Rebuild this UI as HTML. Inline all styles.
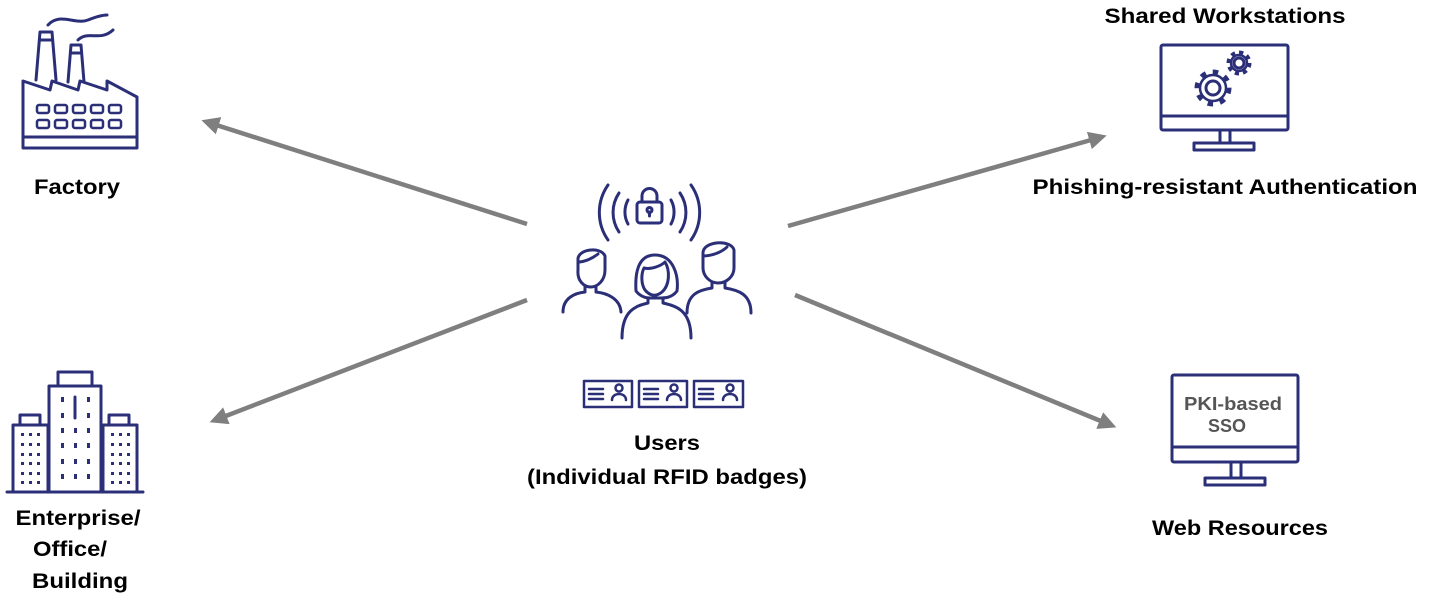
<!DOCTYPE html>
<html><head><style>html,body{margin:0;padding:0;background:#fff}svg{display:block}</style></head>
<body>
<svg width="1429" height="599" viewBox="0 0 1429 599" xmlns="http://www.w3.org/2000/svg">
<defs>
<marker id="ah" markerWidth="4" markerHeight="4" refX="2" refY="2" orient="auto" markerUnits="strokeWidth">
<path d="M0,0 L4,2 L0,4 z" fill="#7f7f7f"/></marker>
</defs>
<g stroke="#7f7f7f" stroke-width="4.5" fill="none" marker-end="url(#ah)">
<line x1="527" y1="224" x2="210" y2="123"/>
<line x1="527" y1="300" x2="218" y2="419"/>
<line x1="788" y1="226" x2="1098" y2="138"/>
<line x1="795" y1="295" x2="1108" y2="424"/>
</g>
<g stroke="#2b2f78" stroke-width="3" fill="none" stroke-linejoin="round" stroke-linecap="round">
<!-- factory -->
<path d="M23,148 L23,81 L50,90 L52,81 L78,90 L80,81 L107,90 L107,81 L137,97 L137,148 Z"/>
<line x1="23" y1="137" x2="137" y2="137"/>
<path d="M36,80 L40,32 L52,32 L56,80 M40,40 L52,40"/>
<path d="M68,82 L71,45 L81,45 L84,82 M71,53 L81,53"/>
<path d="M48,25 C60,12 75,25 88,20 C98,16 103,15 107,15"/>
<path d="M78,40 C88,30 100,42 113,30"/>
<g stroke-width="2.5">
<rect x="37" y="105" width="12" height="8" rx="2"/><rect x="55" y="105" width="12" height="8" rx="2"/><rect x="73" y="105" width="12" height="8" rx="2"/><rect x="91" y="105" width="12" height="8" rx="2"/><rect x="109" y="105" width="12" height="8" rx="2"/>
<rect x="37" y="120" width="12" height="8" rx="2"/><rect x="55" y="120" width="12" height="8" rx="2"/><rect x="73" y="120" width="12" height="8" rx="2"/><rect x="91" y="120" width="12" height="8" rx="2"/><rect x="109" y="120" width="12" height="8" rx="2"/>
</g>
<!-- building -->
<rect x="13" y="425" width="35" height="67"/><rect x="20" y="415" width="20" height="10"/>
<rect x="49" y="386" width="52" height="106"/><rect x="58" y="372" width="34" height="14"/>
<rect x="103" y="425" width="34" height="67"/><rect x="109" y="415" width="20" height="10"/>
<line x1="7" y1="492" x2="143" y2="492"/>
<line x1="75" y1="397" x2="75" y2="418"/>
<!-- monitor 1 -->
<rect x="1161" y="45" width="127" height="85" rx="2"/>
<line x1="1161" y1="116" x2="1288" y2="116"/>
<path d="M1220,130 L1220,143 M1230,130 L1230,143"/>
<rect x="1194" y="143" width="60" height="7"/>
<circle cx="1213" cy="88" r="7"/>
<circle cx="1239" cy="63" r="5"/>
<!-- monitor 2 -->
<rect x="1172" y="375" width="126" height="87" rx="2"/>
<line x1="1172" y1="447" x2="1298" y2="447"/>
<path d="M1231,462 L1231,478 M1241,462 L1241,478"/>
<rect x="1205" y="478" width="60" height="7"/>
<!-- lock and waves -->
<rect x="637" y="202" width="25" height="21" rx="3"/>
<path d="M642,202 L642,196 A7.5,7.5 0 0 1 657,196 L657,202"/>
<circle cx="649.5" cy="210" r="2.5"/><line x1="649.5" y1="212" x2="649.5" y2="216"/>
<path d="M628,200 A25,25 0 0 0 628,224 M619,193 A35,35 0 0 0 619,232 M608,185 A48,48 0 0 0 608,240"/>
<path d="M671,200 A25,25 0 0 1 671,224 M680,193 A35,35 0 0 1 680,232 M691,185 A48,48 0 0 1 691,240"/>
<!-- left man -->
<path d="M578,260 C577,249 601,246 605,256 L605,270 C605,281 597,287 591,287 C584,287 577,281 578,270 Z"/>
<path d="M578,262 C585,262 593,258 598,254"/>
<path d="M585,287 L585,292 C575,293 563,298 563,312 M596,287 L596,292 C606,293 620,298 621,312"/>
<!-- woman -->
<path d="M655,255 C637,255 635,275 636,291 C642,299 650,298 655,298 C663,298 671,299 677,291 C679,275 673,255 655,255 Z"/>
<path d="M644,268 C652,270 662,265 665,262 C670,270 670,285 662,292 C656,297 650,296 645,290 C641,284 641,274 644,268Z"/>
<path d="M648,298 L648,303 C636,306 622,310 622,338 M663,298 L663,303 C676,306 691,310 691,338"/>
<!-- right man -->
<path d="M703,253 C703,241 731,239 734,250 L734,268 C734,276 727,283 718,283 C710,283 703,276 703,268 Z"/>
<path d="M703,256 C712,256 722,252 727,247"/>
<path d="M712,283 L712,288 C699,290 687,294 687,313 M725,283 L725,288 C738,290 751,294 751,313"/>
<!-- badges -->
<g stroke-width="2.5">
<rect x="584" y="381" width="48" height="26"/><rect x="639" y="381" width="48" height="26"/><rect x="694" y="381" width="49" height="26"/>
<path d="M589,389 h14 M589,394 h14 M589,399 h14 M644,389 h14 M644,394 h14 M644,399 h14 M699,389 h14 M699,394 h14 M699,399 h14"/>
<circle cx="619" cy="388" r="3.5"/><path d="M612,400 C612,392 626,392 626,400"/>
<circle cx="674" cy="388" r="3.5"/><path d="M667,400 C667,392 681,392 681,400"/>
<circle cx="730" cy="388" r="3.5"/><path d="M723,400 C723,392 737,392 737,400"/>
</g>
</g>
<!-- gears -->
<g stroke="#2b2f78" fill="none">
<circle cx="1213" cy="88" r="13" stroke-width="2.5"/>
<circle cx="1213" cy="88" r="16" stroke-width="5" stroke-dasharray="5.5 7"/>
<circle cx="1239" cy="63" r="8" stroke-width="2.5"/>
<circle cx="1239" cy="63" r="10.5" stroke-width="4" stroke-dasharray="4.2 4"/>
</g>
<!-- building dots -->
<g fill="#2b2f78">
<g id="dc"><rect x="21" y="433" width="3" height="3"/><rect x="29" y="433" width="3" height="3"/><rect x="37" y="433" width="3" height="3"/>
<rect x="21" y="443" width="3" height="3"/><rect x="29" y="443" width="3" height="3"/><rect x="37" y="443" width="3" height="3"/>
<rect x="21" y="453" width="3" height="3"/><rect x="29" y="453" width="3" height="3"/><rect x="37" y="453" width="3" height="3"/>
<rect x="21" y="462" width="3" height="3"/><rect x="29" y="462" width="3" height="3"/><rect x="37" y="462" width="3" height="3"/>
<rect x="21" y="472" width="3" height="3"/><rect x="29" y="472" width="3" height="3"/><rect x="37" y="472" width="3" height="3"/>
<rect x="21" y="481" width="3" height="3"/><rect x="29" y="481" width="3" height="3"/><rect x="37" y="481" width="3" height="3"/></g>
<use href="#dc" x="90"/>
<g><rect x="61" y="397" width="3" height="5"/><rect x="87" y="397" width="3" height="5"/>
<rect x="61" y="413" width="3" height="5"/><rect x="87" y="413" width="3" height="5"/>
<rect x="61" y="428" width="3" height="5"/><rect x="74" y="428" width="3" height="5"/><rect x="87" y="428" width="3" height="5"/>
<rect x="61" y="443" width="3" height="5"/><rect x="74" y="443" width="3" height="5"/><rect x="87" y="443" width="3" height="5"/>
<rect x="61" y="459" width="3" height="5"/><rect x="74" y="459" width="3" height="5"/><rect x="87" y="459" width="3" height="5"/>
<rect x="61" y="474" width="3" height="5"/><rect x="74" y="474" width="3" height="5"/><rect x="87" y="474" width="3" height="5"/></g>
</g>
<g font-family="'Liberation Sans', sans-serif" font-weight="bold" font-size="21" fill="#000" text-anchor="middle">
<text x="77" y="194" textLength="86" lengthAdjust="spacingAndGlyphs">Factory</text>
<text x="1225" y="23" textLength="241" lengthAdjust="spacingAndGlyphs">Shared Workstations</text>
<text x="1225" y="194" textLength="385" lengthAdjust="spacingAndGlyphs">Phishing-resistant Authentication</text>
<text x="667" y="450" textLength="66" lengthAdjust="spacingAndGlyphs">Users</text>
<text x="667" y="484" textLength="280" lengthAdjust="spacingAndGlyphs">(Individual RFID badges)</text>
<text x="78" y="525" textLength="125" lengthAdjust="spacingAndGlyphs">Enterprise/</text>
<text x="70" y="556" textLength="74" lengthAdjust="spacingAndGlyphs">Office/</text>
<text x="80" y="588" textLength="96" lengthAdjust="spacingAndGlyphs">Building</text>
<text x="1240" y="535" textLength="176" lengthAdjust="spacingAndGlyphs">Web Resources</text>
</g>
<g font-family="'Liberation Sans', sans-serif" font-weight="bold" font-size="18" fill="#555" text-anchor="middle">
<text x="1233" y="410" textLength="98" lengthAdjust="spacingAndGlyphs">PKI-based</text>
<text x="1227" y="432">SSO</text>
</g>
</svg>
</body></html>
